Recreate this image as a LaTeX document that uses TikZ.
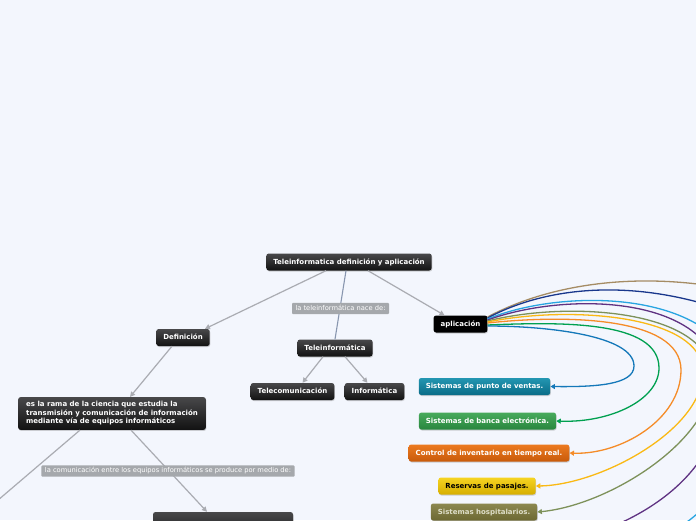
\documentclass[tikz,border=0pt]{standalone}
\usepackage{fontspec}
\setmainfont{DejaVu Sans}
\usetikzlibrary{arrows.meta,shadows,calc}
\definecolor{bg}{RGB}{243,246,253}
\definecolor{gline}{RGB}{170,172,178}
\definecolor{bline}{RGB}{136,150,175}
\definecolor{lab}{RGB}{165,168,172}
\definecolor{cBlue}{RGB}{20,120,185}
\definecolor{cGreen}{RGB}{0,160,80}
\definecolor{cOrange}{RGB}{245,140,40}
\definecolor{cYellow}{RGB}{250,185,20}
\definecolor{cOlive}{RGB}{125,145,90}
\definecolor{cPurple}{RGB}{95,50,130}
\definecolor{cLight}{RGB}{40,165,225}
\definecolor{cDark}{RGB}{25,55,140}
\definecolor{cTan}{RGB}{165,140,100}
\begin{document}
\begin{tikzpicture}[x=1pt,y=-1pt,
  basebox/.style={rounded corners=2.5pt, text=white, font=\fontsize{7}{8.5}\selectfont\bfseries,
    inner xsep=7pt, inner ysep=5pt, text height=5.5pt, text depth=1.5pt,
    drop shadow={opacity=0.35, shadow xshift=0.6pt, shadow yshift=-1pt}},
  darkbox/.style={basebox, top color={rgb,255:red,72;green,72;blue,74}, bottom color={rgb,255:red,18;green,18;blue,18}},
  blackbox/.style={basebox, fill=black},
  cbox/.style={basebox},
  labelbox/.style={fill=lab, text=white, rounded corners=1pt, font=\fontsize{6.7}{7.5}\selectfont,
    inner xsep=3.5pt, inner ysep=2.5pt, text height=5pt, text depth=1.3pt},
  garrow/.style={draw=gline, line width=1.2pt, -{Triangle[length=5pt,width=5pt]}},
  cur/.style={line width=1.3pt, -{Triangle[length=4.5pt,width=5pt]}},
  curf/.style={line width=1.3pt}
]
\useasboundingbox (0,0) rectangle (696,520);
\clip (0,0) rectangle (696,520);
\fill[bg] (0,0) rectangle (696,520);

% nodes
\node[darkbox] (title) at (349,262) {Teleinformatica definición y aplicación};
\node[darkbox] (def) at (183,337.5) {Definición};
\node[blackbox] (apl) at (460.5,324) {aplicación};
\node[darkbox] (tele) at (335,348) {Teleinformática};
\node[darkbox] (telecom) at (292.5,391.5) {Telecomunicación};
\node[darkbox] (inf) at (374.5,391.5) {Informática};
\node[darkbox, align=left, text height=, text depth=, inner ysep=4.5pt, inner xsep=8pt] (rama) at (112,413.5)
  {es la rama de la ciencia que estudia la\\transmisión y comunicación de información\\mediante vía de equipos informáticos};
\node[darkbox, minimum width=140pt, minimum height=30pt] (bot) at (223,527) {};

\node[cbox, top color={rgb,255:red,35;green,150;blue,178}, bottom color={rgb,255:red,10;green,108;blue,135}] (ventas) at (484.5,386.5) {Sistemas de punto de ventas.};
\node[cbox, top color={rgb,255:red,72;green,170;blue,92}, bottom color={rgb,255:red,40;green,134;blue,62}] (banca) at (487.5,421) {Sistemas de banca electrónica.};
\node[cbox, top color={rgb,255:red,236;green,122;blue,32}, bottom color={rgb,255:red,200;green,90;blue,10}] (invent) at (489,453) {Control de inventario en tiempo real.};
\node[cbox, text=black, top color={rgb,255:red,246;green,212;blue,34}, bottom color={rgb,255:red,214;green,174;blue,0}] (reserv) at (487,486) {Reservas de pasajes.};
\node[cbox, text={rgb,255:red,222;green,222;blue,200}, top color={rgb,255:red,140;green,136;blue,80}, bottom color={rgb,255:red,108;green,104;blue,50}] (hosp) at (484,512) {Sistemas hospitalarios.};

\coordinate (offl) at (-30,524);
\coordinate (eLight) at (645,545);
\coordinate (ePurple) at (590,535);
\coordinate (eDark) at (810,350);
\coordinate (eTan) at (830,320);

% gray connectors
\draw[garrow] ([xshift=-23pt]title.south) -- ([xshift=-5pt]def.north east);
\draw[garrow] ([xshift=19pt]title.south) -- ([xshift=-16pt]apl.north);
\draw[draw=bline, line width=1.1pt] ([xshift=-3pt]title.south) -- (tele.north);
\draw[garrow] ([xshift=-12pt]tele.south) -- ([xshift=10pt]telecom.north);
\draw[garrow] ([xshift=10pt]tele.south) -- ([xshift=-7pt]inf.north);
\draw[garrow] ([xshift=-11pt]def.south) -- ([xshift=18pt]rama.north);
\draw[garrow] ([xshift=19pt]rama.south) -- ([xshift=-16pt]bot.north);
\draw[draw=gline, line width=1.2pt] ([xshift=-32pt]rama.south) -- (offl);

% coloured curves
\draw[curf, cTan] ([yshift=7pt]apl.east) .. controls (570,273) and (700,264) .. (eTan);
\draw[curf, cDark] ([yshift=6pt]apl.east) .. controls (560,279) and (680,273) .. (eDark);
\draw[curf, cLight] ([yshift=5pt]apl.east) .. controls (570,285) and (742,290) .. (742,400) .. controls (742,480) and (705,520) .. (eLight);
\draw[curf, cPurple] ([yshift=4pt]apl.east) .. controls (570,290) and (722,295) .. (722,390) .. controls (722,460) and (665,510) .. (ePurple);
\draw[cur, cOlive] ([yshift=3pt]apl.east) .. controls (570,300) and (712,310) .. (712,378) .. controls (712,440) and (610,505) .. (hosp.east);
\draw[cur, cYellow] ([yshift=2pt]apl.east) .. controls (570,305) and (703,315) .. (703,372) .. controls (703,430) and (600,485) .. (reserv.east);
\draw[cur, cOrange] ([yshift=1pt]apl.east) .. controls (560,315) and (681,315) .. (681,370) .. controls (681,420) and (620,455) .. (invent.east);
\draw[cur, cGreen] ([yshift=-1pt]apl.east) .. controls (560,322) and (659,320) .. (659,368) .. controls (659,400) and (610,423) .. (banca.east);
\draw[cur, cBlue] ([yshift=-2pt]apl.east) .. controls (545,326) and (634,335) .. (634,366) .. controls (634,385) and (595,387) .. (ventas.east);

% labels on top of connectors
\node[labelbox] (lab1) at (340.5,308.5) {la teleinformática nace de:};
\node[labelbox] (lab2) at (168,471) {la comunicación entre los equipos informáticos se produce por medio de:};
\end{tikzpicture}
\end{document}
